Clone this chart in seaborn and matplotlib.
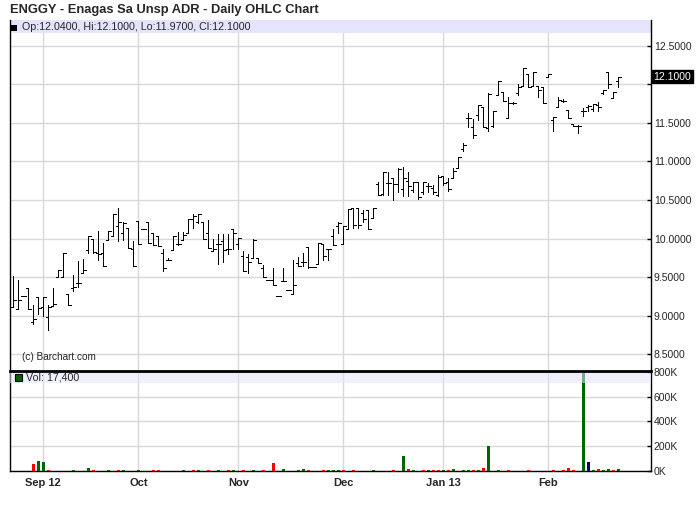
import numpy as np
import pandas as pd
import matplotlib
matplotlib.use("Agg")
import matplotlib.pyplot as plt
from matplotlib.patches import Rectangle
import seaborn as sns

# ---------------- data ----------------
title = "ENGGY - Enagas Sa Unsp ADR - Daily OHLC Chart"
header_text = "Op:12.0400, Hi:12.1000, Lo:11.9700, Cl:12.1000"
vol_text = "Vol: 17,400"
last_price = 12.10

month_pos = [6, 25, 45, 66, 86, 107]
month_labels = ["Sep 12", "Oct", "Nov", "Dec", "Jan 13", "Feb"]

price_ticks = [8.5, 9.0, 9.5, 10.0, 10.5, 11.0, 11.5, 12.0, 12.5]
vol_ticks = [0, 200, 400, 600, 800]

opens = [9.12, 9.09, 9.26, 9.36, 8.92, 9.25, 9.12, 8.98, 9.13, 9.51,
         9.51, 9.28, 9.36, 9.42, 9.56, 9.85, 10.00, 9.82, 9.82, 9.98,
         10.04, 10.16, 10.08, 10.14, 9.86, 10.23, 10.12, 10.21, 10.08, 10.03,
         9.82, 9.73, 9.85, 9.93, 9.98, 10.08, 10.25, 10.22, 10.21, 10.08,
         9.84, 9.93, 9.97, 9.86, 10.13, 9.93, 9.78, 9.76, 9.75, 9.75,
         9.62, 9.46, 9.46, 9.26, 9.45, 9.34, 9.28, 9.68, 9.70, 9.89,
         9.63, 9.67, 9.93, 9.87, 10.04, 10.17, 9.93, 10.13, 10.40, 10.40,
         10.33, 10.37, 10.27, 10.71, 10.58, 10.72, 10.78, 10.71, 10.65, 10.75,
         10.63, 10.74, 10.60, 10.68, 10.66, 10.57, 10.81, 10.74, 10.79, 10.91,
         11.16, 11.56, 11.45, 11.60, 11.70, 11.43, 11.46, 11.86, 11.90, 11.56,
         11.76, 11.89, 11.98, 12.13, 11.98, 11.98, 11.96, 12.10, 11.54, 11.71,
         11.79, 11.67, 11.49, 11.46, 11.66, 11.71, 11.68, 11.73, 11.89, 12.16,
         11.82, 12.04]
highs = [9.52, 9.46, 9.26, 9.36, 9.14, 9.25, 9.24, 9.14, 9.36, 9.59,
         9.81, 9.28, 9.53, 9.71, 9.74, 10.03, 10.00, 10.10, 9.95, 10.10,
         10.32, 10.40, 10.22, 10.14, 9.97, 10.23, 10.12, 10.21, 10.08, 10.03,
         9.86, 9.75, 10.04, 10.09, 10.09, 10.26, 10.32, 10.32, 10.21, 10.24,
         9.99, 10.06, 10.06, 10.06, 10.13, 10.01, 9.84, 9.80, 9.99, 9.75,
         9.66, 9.46, 9.62, 9.26, 9.62, 9.34, 9.73, 9.76, 9.82, 9.89,
         9.63, 9.94, 9.93, 9.87, 10.13, 10.22, 10.16, 10.38, 10.40, 10.40,
         10.37, 10.37, 10.40, 10.73, 10.87, 10.87, 10.78, 10.91, 10.93, 10.87,
         10.74, 10.74, 10.74, 10.72, 10.70, 10.82, 10.81, 10.78, 10.92, 11.06,
         11.24, 11.63, 11.55, 11.73, 11.70, 11.89, 11.65, 12.04, 11.90, 11.83,
         11.77, 12.00, 12.21, 12.13, 12.16, 11.98, 11.96, 12.13, 11.58, 11.84,
         11.81, 11.67, 11.49, 11.47, 11.69, 11.73, 11.75, 11.77, 11.93, 12.16,
         11.90, 12.10]
lows = [9.12, 9.09, 9.26, 9.09, 8.90, 9.02, 9.00, 8.82, 9.13, 9.51,
        9.51, 9.14, 9.32, 9.37, 9.55, 9.81, 9.82, 9.73, 9.64, 9.98,
        10.03, 9.97, 9.98, 9.88, 9.65, 9.93, 10.12, 9.95, 9.92, 9.90,
        9.58, 9.72, 9.85, 9.92, 9.98, 10.07, 10.14, 10.20, 9.99, 9.88,
        9.84, 9.67, 9.70, 9.80, 9.87, 9.87, 9.58, 9.56, 9.75, 9.69,
        9.50, 9.46, 9.40, 9.26, 9.45, 9.34, 9.28, 9.64, 9.64, 9.62,
        9.63, 9.67, 9.72, 9.72, 9.92, 10.07, 9.93, 10.13, 10.14, 10.14,
        10.22, 10.12, 10.27, 10.57, 10.57, 10.56, 10.50, 10.60, 10.55, 10.55,
        10.61, 10.52, 10.58, 10.61, 10.58, 10.55, 10.70, 10.62, 10.78, 10.91,
        11.14, 11.45, 11.31, 11.54, 11.45, 11.39, 11.45, 11.86, 11.78, 11.56,
        11.75, 11.86, 11.98, 11.97, 11.98, 11.84, 11.76, 12.10, 11.39, 11.70,
        11.77, 11.56, 11.46, 11.37, 11.59, 11.66, 11.66, 11.66, 11.88, 11.95,
        11.82, 11.97]
closes = [9.20, 9.20, 9.26, 9.09, 8.96, 9.10, 9.24, 9.12, 9.15, 9.59,
          9.81, 9.14, 9.38, 9.43, 9.60, 10.03, 9.83, 9.80, 9.64, 10.10,
          10.32, 10.21, 10.20, 9.88, 9.65, 9.93, 10.12, 9.95, 9.92, 9.90,
          9.62, 9.73, 10.04, 9.93, 10.05, 10.26, 10.30, 10.32, 9.99, 9.88,
          9.86, 9.93, 9.85, 9.86, 10.08, 10.01, 9.58, 9.70, 9.98, 9.69,
          9.50, 9.46, 9.40, 9.26, 9.45, 9.34, 9.40, 9.65, 9.70, 9.63,
          9.63, 9.94, 9.78, 9.87, 9.92, 10.20, 10.16, 10.38, 10.18, 10.18,
          10.25, 10.12, 10.40, 10.57, 10.86, 10.72, 10.71, 10.90, 10.78, 10.68,
          10.74, 10.54, 10.73, 10.68, 10.61, 10.80, 10.72, 10.64, 10.88, 11.06,
          11.22, 11.56, 11.34, 11.73, 11.45, 11.88, 11.65, 12.04, 11.78, 11.76,
          11.76, 11.97, 12.21, 11.97, 12.16, 11.92, 11.76, 12.13, 11.58, 11.80,
          11.79, 11.56, 11.46, 11.46, 11.66, 11.72, 11.75, 11.70, 11.93, 12.01,
          11.90, 12.10]

# volume (thousands of shares) on the days that traded
vol_days = [1, 4, 5, 6, 7, 12, 15, 16, 19, 21, 22, 25, 28, 29, 34, 36, 37, 39,
            41, 43, 44, 46, 48, 50, 52, 54, 57, 58, 59, 62, 63, 64, 65, 66, 68,
            72, 76, 78, 79, 80, 82, 83, 84, 85, 86, 87, 88, 90, 91, 92, 93, 94,
            95, 97, 99, 103, 108, 110, 111, 112, 114, 115, 116, 117, 118, 119,
            120, 121]
vol_k = [4, 57, 81, 75, 10, 8, 25, 8, 8, 8, 8, 8, 8, 8, 8, 8, 12, 8,
         8, 8, 8, 8, 8, 8, 65, 15, 8, 14, 8, 8, 8, 8, 8, 8, 8,
         8, 8, 124, 16, 10, 8, 8, 8, 8, 8, 8, 16, 8, 8, 8, 8, 24,
         205, 8, 8, 8, 8, 8, 24, 10, 790, 75, 10, 16, 10, 16,
         10, 17.4]
vol_dir = ["flat", "down", "up", "up", "down", "up", "up", "down", "up", "down",
           "up", "up", "down", "down", "up", "down", "up", "down", "up", "down",
           "up", "down", "up", "down", "down", "up", "up", "up", "down", "down",
           "up", "up", "up", "down", "down", "up", "down", "up", "down", "up",
           "down", "up", "down", "down", "up", "down", "up", "up", "up", "down",
           "up", "down", "up", "up", "down", "down", "down", "down", "down",
           "down", "up", "flat", "up", "down", "up", "up", "down", "up"]

# ---------------- style ----------------
sns.set_style("white")
plt.rcParams["font.family"] = ["Liberation Sans", "DejaVu Sans"]

W, H = 700, 512
fig = plt.figure(figsize=(W / 100, H / 100), dpi=100)
fig.patch.set_facecolor("white")

L, R = 10, 651
ax1 = fig.add_axes([L / W, 1 - 370 / H, (R - L) / W, 350 / H])
ax2 = fig.add_axes([L / W, 1 - 471 / H, (R - L) / W, 100 / H])

grid_c = "#d8d8d8"
band_c = "#e4e4fc"
xlim = (-0.66, 127.5)
n = len(closes)
x = np.arange(n)

# ---------------- price panel ----------------
ax1.set_xlim(*xlim)
ax1.set_ylim(8.299, 12.833)
lw_bar = 0.55
ax1.vlines(x, lows, highs, color="black", lw=lw_bar, antialiased=False, zorder=3)
ax1.hlines(opens, x - 0.55, x, color="black", lw=lw_bar, antialiased=False, zorder=3)
ax1.hlines(closes, x, x + 0.55, color="black", lw=lw_bar, antialiased=False, zorder=3)

ax1.set_xticks(month_pos)
ax1.tick_params(axis="x", length=0, labelbottom=False)
ax1.yaxis.tick_right()
ax1.set_yticks(price_ticks)
ax1.set_yticklabels(["" if abs(t - 12.0) < 1e-9 else f"{t:.4f}" for t in price_ticks])
ax1.tick_params(axis="y", direction="in", length=3, width=1, color="black",
                pad=2, labelsize=7.5, right=True, left=False)
ax1.grid(True, color=grid_c, lw=1)
ax1.set_axisbelow(True)
for s in ["top", "bottom"]:
    ax1.spines[s].set_visible(False)
for s in ["left", "right"]:
    ax1.spines[s].set_color("black")
    ax1.spines[s].set_linewidth(1)

ax1.add_patch(Rectangle((0, 1 - 13 / 350), 1, 13 / 350, transform=ax1.transAxes,
                        facecolor=band_c, edgecolor="none", zorder=1))
fig.patches.append(Rectangle((11 / W, 1 - 31 / H), 6 / W, 6.5 / H,
                             transform=fig.transFigure, facecolor="black",
                             edgecolor="none"))
fig.text(22 / W, 1 - 27 / H, header_text, fontsize=7.7, va="center", ha="left")
ax1.text(12 / (R - L), 1 - (357 - 20) / 350, "(c) Barchart.com", fontsize=7.2,
         transform=ax1.transAxes, va="center", ha="left")

ax1.text(1.004, last_price, f"{last_price:.4f}", color="white", fontsize=7.5,
         va="center", ha="left",
         transform=ax1.get_yaxis_transform(),
         bbox=dict(boxstyle="square,pad=0.12", facecolor="black", edgecolor="black"))

fig.text(10 / W, 1 - 10 / H, title, fontsize=9.3, fontweight="bold",
         va="center", ha="left")

# ---------------- volume panel ----------------
vol_full = np.zeros(n)
dir_full = ["none"] * n
for d, v, c in zip(vol_days, vol_k, vol_dir):
    vol_full[d] = v
    dir_full[d] = c
df = pd.DataFrame({"idx": x, "vol": vol_full, "dir": dir_full})
palette = {"up": "#006400", "down": "#ff0000", "flat": "#000080", "none": "#ffffff"}
sns.barplot(data=df, x="idx", y="vol", hue="dir", palette=palette,
            native_scale=True, dodge=False, width=0.6, errorbar=None,
            legend=False, saturation=1, linewidth=0, ax=ax2, zorder=3)
ax2.set_xlabel("")
ax2.set_ylabel("")
ax2.set_xlim(*xlim)
ax2.set_ylim(0, 808)
ax2.set_xticks(month_pos)
ax2.set_xticklabels(month_labels, fontweight="bold", fontsize=8)
ax2.tick_params(axis="x", length=0, pad=5)
ax2.yaxis.tick_right()
ax2.set_yticks(vol_ticks)
ax2.set_yticklabels([f"{v}K" for v in vol_ticks])
ax2.tick_params(axis="y", direction="in", length=3, width=1, color="black",
                pad=2, labelsize=7.5, right=True, left=False)
ax2.grid(True, color=grid_c, lw=1)
ax2.set_axisbelow(True)
for s in ["left", "right", "bottom"]:
    ax2.spines[s].set_color("black")
    ax2.spines[s].set_linewidth(1)
ax2.spines["top"].set_color("black")
ax2.spines["top"].set_linewidth(2)
ax2.spines["top"].set_zorder(6)

ax2.add_patch(Rectangle((0, 1 - 12 / 100), 1, 12 / 100, transform=ax2.transAxes,
                        facecolor=band_c, edgecolor="none", alpha=0.55, zorder=4))
fig.patches.append(Rectangle((15 / W, 1 - 381 / H), 7 / W, 7 / H,
                             transform=fig.transFigure, facecolor="#006400",
                             edgecolor="black", linewidth=0.8, zorder=7))
fig.text(26 / W, 1 - 377.5 / H, vol_text, fontsize=7.7, va="center", ha="left",
         zorder=7)

fig.savefig("out.png", dpi=100, facecolor="white")
